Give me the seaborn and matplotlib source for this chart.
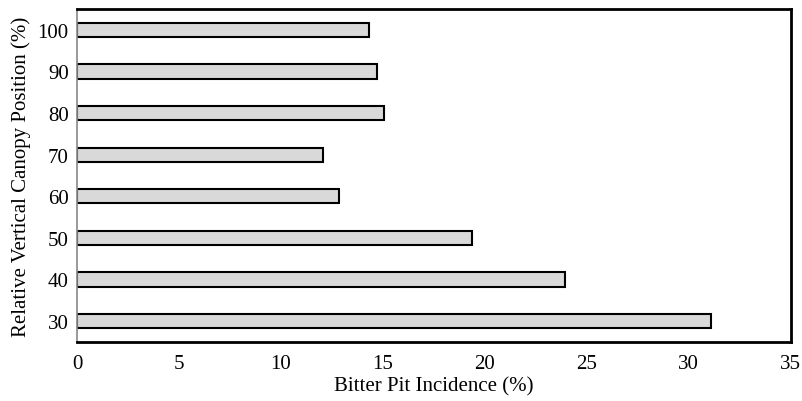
import matplotlib
matplotlib.use("Agg")
import matplotlib.pyplot as plt
import seaborn as sns
import pandas as pd

positions = ["100", "90", "80", "70", "60", "50", "40", "30"]
incidence = [14.3, 14.7, 15.05, 12.05, 12.85, 19.35, 23.95, 31.1]
xticks = [0, 5, 10, 15, 20, 25, 30, 35]

df = pd.DataFrame({"pos": positions, "inc": incidence})

sns.set_theme(style="white")
plt.rcParams["font.family"] = ["Liberation Serif", "DejaVu Serif"]

fig = plt.figure(figsize=(8.02, 4.02), dpi=100)
ax = fig.add_axes([0.096, 0.147, 0.89, 0.828])

sns.barplot(data=df, x="inc", y="pos", order=positions, orient="h",
            color="#d9d9d9", edgecolor="black", linewidth=1.5,
            width=0.34, saturation=1, ax=ax)

ax.set_xlim(0, 35)
ax.set_ylim(7.5, -0.5)
ax.set_xticks(xticks)
ax.set_xticklabels([str(t) for t in xticks])
ax.tick_params(axis="both", length=0, labelsize=15, colors="black")
ax.tick_params(axis="x", pad=9)
ax.tick_params(axis="y", pad=6)
ax.set_xlabel("Bitter Pit Incidence (%)", fontsize=15, labelpad=2, color="black")
ax.set_ylabel("Relative Vertical Canopy Position (%)", fontsize=15, labelpad=5, color="black")

for side in ["top", "right", "bottom"]:
    ax.spines[side].set_visible(True)
    ax.spines[side].set_color("black")
    ax.spines[side].set_linewidth(2.0)
ax.spines["left"].set_visible(True)
ax.spines["left"].set_color("#888888")
ax.spines["left"].set_linewidth(1.2)

fig.savefig("out.png", dpi=100)
